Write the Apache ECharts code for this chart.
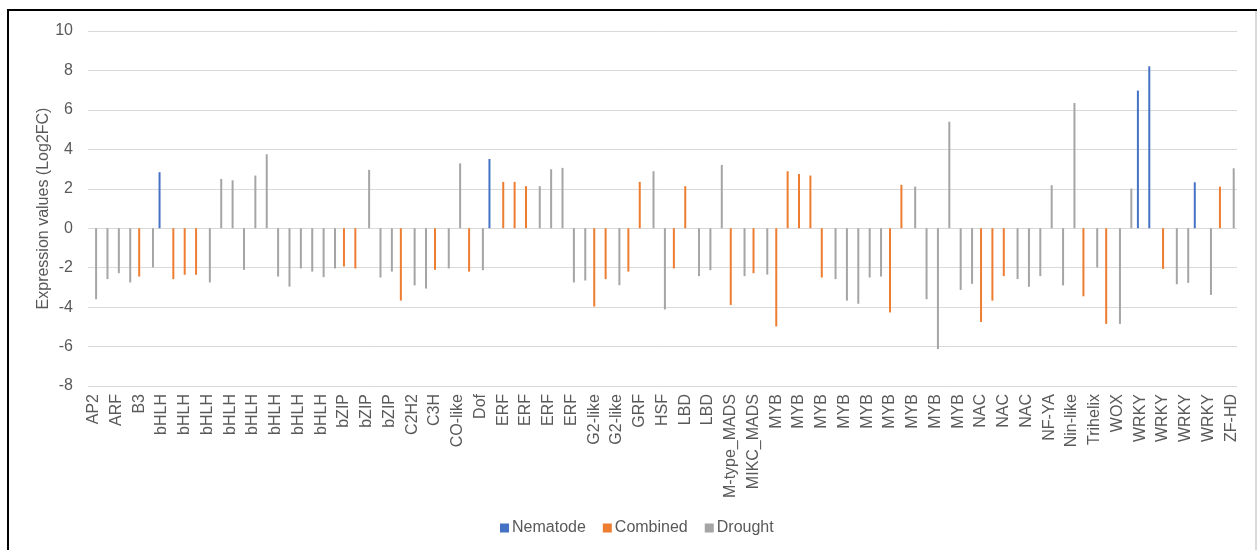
<!DOCTYPE html>
<html>
<head>
<meta charset="utf-8">
<script src="https://cdn.jsdelivr.net/npm/echarts@6/dist/echarts.min.js"></script>
<style>
html,body{margin:0;padding:0;background:#fff;}
#chart{width:1257px;height:550px;}
</style>
</head>
<body>
<div id="chart"></div>
<script>
const categories = [
  "AP2","AP2","ARF","ARF","B3","B3",
  "bHLH","bHLH","bHLH","bHLH","bHLH","bHLH","bHLH","bHLH","bHLH","bHLH","bHLH","bHLH","bHLH","bHLH","bHLH",
  "bZIP","bZIP","bZIP","bZIP","bZIP","bZIP","bZIP",
  "C2H2","C2H2","C3H","C3H","CO-like","CO-like","Dof","Dof",
  "ERF","ERF","ERF","ERF","ERF","ERF","ERF","ERF",
  "G2-like","G2-like","G2-like","GRF","GRF","HSF","HSF","LBD",
  "LBD","LBD","LBD","LBD","M-type_MADS","M-type_MADS","MIKC_MADS","MIKC_MADS",
  "MYB","MYB","MYB","MYB","MYB","MYB","MYB","MYB","MYB","MYB","MYB","MYB","MYB","MYB","MYB","MYB","MYB","MYB",
  "NAC","NAC","NAC","NAC","NAC","NAC","NF-YA","NF-YA","Nin-like","Nin-like","Trihelix","Trihelix","WOX","WOX",
  "WRKY","WRKY","WRKY","WRKY","WRKY","WRKY","WRKY","WRKY","ZF-HD"
];

const _ = null;
const nematode = [
  _,_,_,_,_,_,2.84,_,_,_, _,_,_,_,_,_,_,_,_,_,
  _,_,_,_,_,_,_,_,_,_, _,_,_,_,_,3.51,_,_,_,_,
  _,_,_,_,_,_,_,_,_,_, _,_,_,_,_,_,_,_,_,_,
  _,_,_,_,_,_,_,_,_,_, _,_,_,_,_,_,_,_,_,_,
  _,_,_,_,_,_,_,_,_,_, _,_,6.98,8.21,_,_,_,2.33,_,_,
  _
];
const combined = [
  _,_,_,_,-2.45,_,_,-2.58,-2.36,-2.36, _,_,_,_,_,_,_,_,_,_,
  _,_,-1.94,-2.04,_,_,_,-3.67,_,_, -2.11,_,_,-2.2,_,_,2.35,2.35,2.13,_,
  _,_,_,_,-3.97,-2.58,_,-2.2,2.35,_, _,-2.04,2.13,_,_,_,-3.89,_,-2.28,_,
  -4.98,2.89,2.75,2.67,-2.5,_,_,_,_,_, -4.27,2.2,_,_,_,_,_,_,-4.75,-3.67,
  -2.43,_,_,_,_,_,_,-3.45,_,-4.85, _,_,_,_,-2.06,_,_,_,_,2.11,
  _
];
const drought = [
  -3.6,-2.58,-2.28,-2.75,_,-1.98,_,_,_,_, -2.75,2.5,2.43,-2.11,2.67,3.75,-2.45,-2.96,-2.04,-2.2,
  -2.48,-2.04,_,_,2.96,-2.5,-2.2,_,-2.9,-3.06, _,-2.04,3.29,_,-2.13,_,_,_,_,2.13,
  2.99,3.06,-2.75,-2.65,_,_,-2.89,_,_,2.89, -4.12,_,_,-2.43,-2.13,3.21,_,-2.43,_,-2.35,
  _,_,_,_,_,-2.58,-3.67,-3.83,-2.5,-2.45, _,_,2.11,-3.6,-6.13,5.4,-3.13,-2.82,_,_,
  _,-2.58,-2.97,-2.43,2.18,-2.9,6.35,_,-1.99,_, -4.85,2.01,_,_,_,-2.84,-2.77,_,-3.38,_,
  3.04
];

const seriesNames = ["Nematode","Combined","Drought"];
const seriesColors = ["#4472C4","#ED7D31","#A5A5A5"];
const yMin = -8, yMax = 10, yStep = 2;

const font = "'Liberation Sans', Arial, sans-serif";
const txt = "#595959";

const chart = echarts.init(document.getElementById('chart'), null, {renderer:'canvas'});
const dataSets = [nematode, combined, drought];

chart.setOption({
  animation: false,
  backgroundColor: '#fff',
  textStyle: {fontFamily: font},
  graphic: [
    {type:'rect', shape:{x:7, y:9, width:2, height:545}, style:{fill:'#000'}},
    {type:'rect', shape:{x:7, y:9, width:1252, height:2}, style:{fill:'#000'}},
    {type:'rect', shape:{x:1255, y:11, width:2, height:545}, style:{fill:'#D9D9D9'}}
  ],
  grid: {left: 88, right: 20, top: 31, bottom: 164, containLabel: false},
  legend: {
    left: 495, top: 515,
    icon: 'rect', itemWidth: 9, itemHeight: 9, itemGap: 17,
    textStyle: {color: txt, fontSize: 16, fontFamily: font, padding:[0,0,0,-2]},
    data: seriesNames
  },
  xAxis: {
    type: 'category',
    data: categories,
    axisLine: {show: false, onZero: false},
    axisTick: {show: false},
    axisLabel: {interval: 1, rotate: 90, color: txt, fontSize: 16, fontFamily: font, margin: 8},
    splitLine: {show: false}
  },
  yAxis: {
    type: 'value',
    min: yMin, max: yMax, interval: yStep,
    name: 'Expression values (Log2FC)',
    nameLocation: 'middle',
    nameGap: 36,
    nameMoveOverlap: false,
    nameTextStyle: {color: txt, fontSize: 16, fontFamily: font},
    axisLine: {show: false},
    axisTick: {show: false},
    axisLabel: {color: txt, fontSize: 16, fontFamily: font, margin: 15},
    splitLine: {lineStyle: {color: '#D9D9D9', width: 1}}
  },
  series: seriesNames.map((n, i) => ({
    name: n,
    type: 'bar',
    data: dataSets[i],
    barWidth: 2,
    barGap: '20%',
    itemStyle: {color: seriesColors[i]}
  }))
});
</script>
</body>
</html>
